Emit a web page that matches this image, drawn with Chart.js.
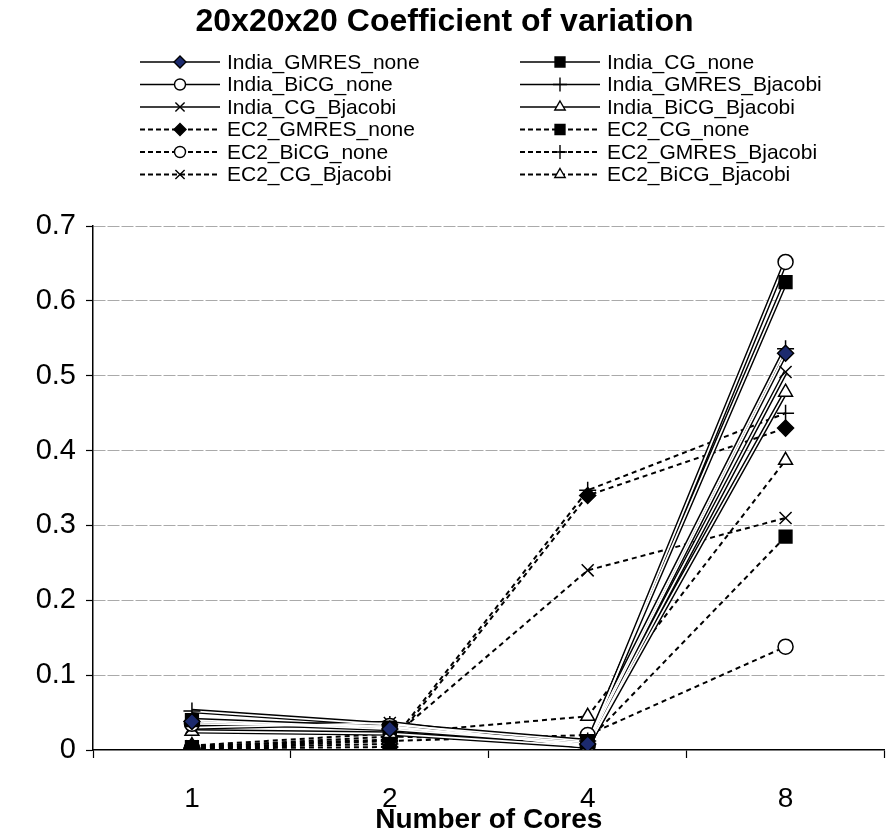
<!DOCTYPE html>
<html>
<head>
<meta charset="utf-8">
<script src="https://cdn.jsdelivr.net/npm/chart.js@4/dist/chart.umd.min.js"></script>
<style>
  html, body { margin: 0; padding: 0; background: #fff; }
  #wrap { width: 895px; height: 837px; }
</style>
</head>
<body>
<div id="wrap"><canvas id="cov"></canvas></div>
<script>
const cores = ["1", "2", "4", "8"];

const india_gmres_none = [0.038, 0.028, 0.008, 0.530];
const india_cg_none = [0.040, 0.030, 0.010, 0.625];
const india_bicg_none = [0.035, 0.032, 0.006, 0.652];
const india_gmres_bjacobi = [0.052, 0.034, 0.012, 0.536];
const india_cg_bjacobi = [0.030, 0.036, 0.004, 0.505];
const india_bicg_bjacobi = [0.025, 0.022, 0.005, 0.478];
const ec2_gmres_none = [0.002, 0.004, 0.340, 0.430];
const ec2_cg_none = [0.004, 0.018, 0.012, 0.285];
const ec2_bicg_none = [0.003, 0.012, 0.020, 0.138];
const ec2_gmres_bjacobi = [0.003, 0.008, 0.347, 0.450];
const ec2_cg_bjacobi = [0.005, 0.014, 0.240, 0.310];
const ec2_bicg_bjacobi = [0.006, 0.022, 0.045, 0.387];

const series_names = [
  "India_GMRES_none", "India_CG_none",
  "India_BiCG_none", "India_GMRES_Bjacobi",
  "India_CG_Bjacobi", "India_BiCG_Bjacobi",
  "EC2_GMRES_none", "EC2_CG_none",
  "EC2_BiCG_none", "EC2_GMRES_Bjacobi",
  "EC2_CG_Bjacobi", "EC2_BiCG_Bjacobi"
];
const series_values = [
  india_gmres_none, india_cg_none, india_bicg_none, india_gmres_bjacobi,
  india_cg_bjacobi, india_bicg_bjacobi, ec2_gmres_none, ec2_cg_none,
  ec2_bicg_none, ec2_gmres_bjacobi, ec2_cg_bjacobi, ec2_bicg_bjacobi
];

// marker look per series (same order as the names)
const marker_style = ["rectRot", "rect", "circle", "cross", "crossRot", "triangle",
                      "rectRot", "rect", "circle", "cross", "crossRot", "triangle"];
const marker_fill = ["#1c2a6e", "#000", "#fff", "#000", "#000", "#fff",
                     "#000", "#000", "#fff", "#000", "#000", "#fff"];
const marker_size = { rectRot: 8, rect: 9, circle: 7.5, cross: 8.5, crossRot: 8.5, triangle: 8 };
const legend_marker_size = { rectRot: 6, rect: 7, circle: 5.5, cross: 7, crossRot: 6.5, triangle: 6 };

Chart.defaults.font.family = '"Liberation Sans", Arial, sans-serif';
Chart.defaults.color = "#000";

const datasets = [];
series_values.forEach(function (vals, i) {
  const india = i < 6;
  if (india) {
    // double line: thick black with a thin white core
    datasets.push({ label: series_names[i], data: vals, borderColor: "#000", borderWidth: 4.6,
      pointRadius: 0, tension: 0, order: 3 });
    datasets.push({ label: series_names[i], data: vals, borderColor: "#fff", borderWidth: 1.7,
      pointRadius: 0, tension: 0, order: 2 });
  } else {
    datasets.push({ label: series_names[i], data: vals, borderColor: "#000", borderWidth: 2,
      borderDash: [5, 4], pointRadius: 0, tension: 0, order: 2 });
  }
});
series_values.forEach(function (vals, i) {
  datasets.push({ label: series_names[i], data: vals, showLine: false,
    pointStyle: marker_style[i], pointRadius: marker_size[marker_style[i]],
    pointBackgroundColor: marker_fill[i], pointBorderColor: "#000", pointBorderWidth: 1.5,
    order: 1 });
});

const legend_plugin = {
  id: "series_legend",
  afterDraw(chart) {
    const ctx = chart.ctx;
    ctx.save();
    series_names.forEach(function (name, i) {
      const col = i % 2, row = Math.floor(i / 2);
      const x0 = col ? 520 : 140;
      const y = 62 + row * 22.5;
      ctx.strokeStyle = "#000";
      ctx.lineWidth = i < 6 ? 1.6 : 2;
      ctx.setLineDash(i < 6 ? [] : [5, 3]);
      ctx.beginPath();
      ctx.moveTo(x0, y);
      ctx.lineTo(x0 + 80, y);
      ctx.stroke();
      ctx.setLineDash([]);
      ctx.fillStyle = marker_fill[i];
      ctx.lineWidth = 1.4;
      Chart.helpers.drawPoint(ctx, { pointStyle: marker_style[i], radius: legend_marker_size[marker_style[i]], borderWidth: 1.4, rotation: 0 }, x0 + 40, y);
      ctx.fillStyle = "#000";
      ctx.font = '21px "Liberation Sans", Arial, sans-serif';
      ctx.textBaseline = "middle";
      ctx.textAlign = "left";
      ctx.fillText(name, x0 + 87, y + 1);
    });
    ctx.restore();
  }
};

const cov_chart = new Chart("cov", {
  type: "line",
  data: { labels: cores, datasets: datasets },
  plugins: [legend_plugin],
  options: {
    responsive: true,
    maintainAspectRatio: false,
    animation: false,
    layout: { padding: { left: 0, right: 6, top: 0, bottom: 0 } },
    plugins: {
      legend: { display: false },
      tooltip: { enabled: false },
      title: {
        display: true,
        text: "20x20x20 Coefficient of variation",
        font: { size: 32, weight: "bold" },
        color: "#000",
        padding: { top: 3, bottom: 184.6 }
      }
    },
    scales: {
      x: {
        offset: true,
        ticks: { font: { size: 28 }, color: "#000", padding: 24 },
        grid: { offset: true, drawOnChartArea: false, drawTicks: true, tickLength: 8, tickColor: "#000", tickWidth: 1.2 },
        border: { color: "#000", width: 1.5 },
        title: { display: true, text: "Number of Cores", font: { size: 28, weight: "bold" }, color: "#000", padding: { top: 0, bottom: 0 } },
        afterFit: function (s) { s.height = 87; }
      },
      y: {
        min: 0,
        max: 0.7,
        ticks: {
          stepSize: 0.1,
          font: { size: 29 },
          color: "#000",
          padding: 10,
          callback: function (v) { return v === 0 ? "0" : v.toFixed(1); }
        },
        grid: {
          color: function (c) { return c.tick && c.tick.value === 0 ? "rgba(0,0,0,0)" : "#aaa"; },
          lineWidth: 1,
          drawTicks: true,
          tickLength: 7,
          tickColor: "#000",
          tickWidth: 1.2,
          tickBorderDash: []
        },
        border: { color: "#000", width: 1.5, dash: [12, 2] },
        afterFit: function (s) { s.width = 93; }
      }
    }
  }
});
</script>
</body>
</html>
